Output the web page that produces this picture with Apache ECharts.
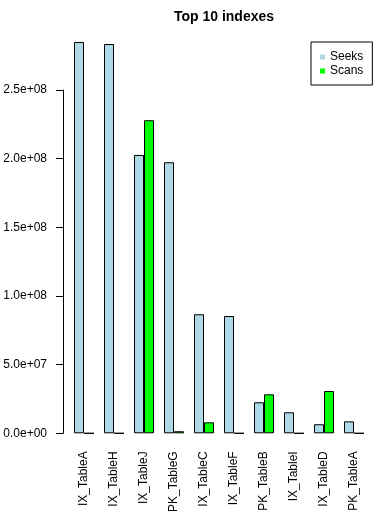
<!DOCTYPE html>
<html>
<head>
<meta charset="utf-8">
<script src="https://cdn.jsdelivr.net/npm/echarts@6/dist/echarts.min.js"></script>
<style>
html,body{margin:0;padding:0;background:#fff;}
#chart{width:384px;height:524px;}
</style>
</head>
<body>
<div id="chart"></div>
<script>
var categories = ['IX_TableA','IX_TableH','IX_TableJ','PK_TableG','IX_TableC','IX_TableF','PK_TableB','IX_TableI','IX_TableD','PK_TableA'];
var seeks = [2.85e8, 2.835e8, 2.027e8, 1.974e8, 8.67e7, 8.54e7, 2.26e7, 1.53e7, 6.6e6, 8.7e6];
var scans = [0, 0, 2.28e8, 1.5e6, 8.0e6, 0, 2.84e7, 0, 3.08e7, 0];
var yTicks = [0, 5e7, 1e8, 1.5e8, 2e8, 2.5e8];

function fmt(v){
  if (v === 0) return '0.0e+00';
  var s = v.toExponential(1);
  var p = s.split('e');
  var sign = p[1].charAt(0);
  var d = p[1].slice(1);
  if (d.length < 2) d = '0' + d;
  return p[0] + 'e' + sign + d;
}

var FONT = '"Liberation Sans", Arial, sans-serif';
var axisTop = 90, axisBottom = 433.3, barTop = 30;
var tickMax = yTicks[yTicks.length-1];
var barMax = tickMax * (axisBottom - barTop) / (axisBottom - axisTop);

var chart = echarts.init(document.getElementById('chart'), null, {renderer:'canvas'});
chart.setOption({
  animation: false,
  backgroundColor: '#fff',
  title: {
    text: 'Top 10 indexes',
    left: 219, top: 5, textAlign: 'center',
    textStyle: {fontFamily: FONT, fontWeight: 'bold', fontSize: 14, color: '#000'}
  },
  legend: {
    orient: 'vertical',
    left: 311, top: 42,
    padding: [9, 9, 8, 9],
    itemWidth: 5, itemHeight: 5,
    itemGap: 2,
    itemTextGap: 9,
    borderColor: '#000', borderWidth: 1,
    icon: 'rect',
    itemStyle: {borderWidth: 0},
    textStyle: {fontFamily: FONT, fontSize: 12, color: '#000', lineHeight: 12},
    data: [
      {name: 'Seeks', itemStyle: {color: '#ADD8E6', borderWidth: 0}},
      {name: 'Scans', itemStyle: {color: '#00FF00', borderWidth: 0}}
    ]
  },
  grid: [
    {left: 63, right: 15, top: axisTop, bottom: 524 - axisBottom, containLabel: false},
    {left: 69, right: 15, top: barTop, bottom: 524 - axisBottom, containLabel: false}
  ],
  xAxis: [
    {gridIndex: 0, type: 'value', show: false},
    {gridIndex: 1, type: 'category', data: categories,
     axisLine: {show: false}, axisTick: {show: false},
     axisLabel: {rotate: 90, margin: 18, fontFamily: FONT, fontSize: 12, color: '#000', interval: 0}}
  ],
  yAxis: [
    {gridIndex: 0, type: 'value', min: 0, max: tickMax, interval: yTicks[1],
     axisLine: {show: true, lineStyle: {color: '#000', width: 1}},
     axisTick: {show: true, length: 7, lineStyle: {color: '#000'}},
     axisLabel: {margin: 16, fontFamily: FONT, fontSize: 12, color: '#000', formatter: fmt},
     splitLine: {show: false}},
    {gridIndex: 1, type: 'value', min: 0, max: barMax, show: false, splitLine: {show: false}}
  ],
  series: [
    {name: 'Seeks', type: 'bar', xAxisIndex: 1, yAxisIndex: 1, data: seeks,
     barWidth: 10, barGap: '0%',
     itemStyle: {color: '#ADD8E6', borderColor: '#000', borderWidth: 1}},
    {name: 'Scans', type: 'bar', xAxisIndex: 1, yAxisIndex: 1, data: scans,
     barWidth: 10, barGap: '0%',
     itemStyle: {color: '#00FF00', borderColor: '#000', borderWidth: 1}}
  ]
});
</script>
</body>
</html>
